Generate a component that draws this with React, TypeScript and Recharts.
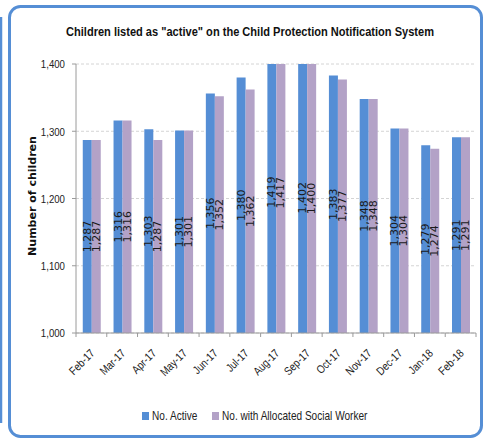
import React from 'react';
import { BarChart, Bar, XAxis, YAxis, CartesianGrid, LabelList, Legend } from 'recharts';

const months = ['Feb-17', 'Mar-17', 'Apr-17', 'May-17', 'Jun-17', 'Jul-17', 'Aug-17', 'Sep-17', 'Oct-17', 'Nov-17', 'Dec-17', 'Jan-18', 'Feb-18'];
const activeCounts = [1287, 1316, 1303, 1301, 1356, 1380, 1419, 1402, 1383, 1348, 1304, 1279, 1291];
const allocatedCounts = [1287, 1316, 1287, 1301, 1352, 1362, 1417, 1400, 1377, 1348, 1304, 1274, 1291];
const yTicks = [1000, 1100, 1200, 1300, 1400];
const seriesNames = ['No. Active', 'No. with Allocated Social Worker'];

const data = months.map((m, i) => ({ month: m, active: activeCounts[i], allocated: allocatedCounts[i] }));

const W = 483;
const H = 443;
const PLOT_LEFT = 76;
const PLOT_RIGHT = 476;
const BLUE = '#558ed5';
const PURPLE = '#b3a2c7';
const AXIS = '#9a9a9a';
const SANS = "'Liberation Sans', Arial, sans-serif";
const SQUEEZE = 0.84; // poor man's Calibri

const fmt = (v: number) => v.toLocaleString('en-US');

const XTick = (props: any) => {
  const { x, y, payload, index } = props;
  const bw = (PLOT_RIGHT - PLOT_LEFT) / months.length;
  const ax = x + 4;
  const ay = y + 21;
  return (
    <g>
      <line x1={x - bw / 2} x2={x - bw / 2} y1={y} y2={y + 4} stroke={AXIS} />
      {index === months.length - 1 && <line x1={x + bw / 2} x2={x + bw / 2} y1={y} y2={y + 4} stroke={AXIS} />}
      <text
        x={0}
        y={0}
        textAnchor="end"
        fontFamily={SANS}
        fontSize={11.5}
        fill="#222"
        transform={`translate(${ax}, ${ay}) rotate(-45) scale(${SQUEEZE}, 1)`}
      >
        {payload.value}
      </text>
    </g>
  );
};

const YTick = (props: any) => {
  const { x, y, payload } = props;
  return (
    <text
      x={0}
      y={0}
      textAnchor="end"
      dominantBaseline="central"
      fontFamily={SANS}
      fontSize={11.5}
      fill="#222"
      transform={`translate(${x}, ${y}) scale(${SQUEEZE}, 1)`}
    >
      {fmt(payload.value)}
    </text>
  );
};

const BarValue = (props: any) => {
  const { x, y, width, height, value } = props;
  const cx = x + width / 2;
  const cy = y + height / 2;
  return (
    <text
      x={cx}
      y={cy}
      textAnchor="middle"
      dominantBaseline="central"
      fontFamily="'DejaVu Sans', sans-serif"
      fontSize={11}
      fill="#1a1a1a"
      transform={`rotate(-90, ${cx}, ${cy})`}
    >
      {fmt(value)}
    </text>
  );
};

const legendX = [142, 212];

const renderLegend = () => (
  <svg width={W} height={40} style={{ display: 'block' }}>
    {[BLUE, PURPLE].map((c, i) => (
      <g key={i}>
        <rect x={legendX[i]} y={19} width={7} height={8} fill={c} />
        <text
          x={0}
          y={0}
          dominantBaseline="central"
          fontFamily={SANS}
          fontSize={12}
          fill="#222"
          transform={`translate(${legendX[i] + 10}, 23) scale(${SQUEEZE}, 1)`}
        >
          {seriesNames[i]}
        </text>
      </g>
    ))}
  </svg>
);

export default function App() {
  return (
    <div style={{ position: 'absolute', left: 0, top: 0, width: W, height: H, background: '#fff' }}>
      <svg width={W} height={H} style={{ position: 'absolute', left: 0, top: 0 }}>
        <line x1={1} x2={1} y1={17} y2={423} stroke={BLUE} strokeWidth={2.5} />
        <rect x={9.5} y={6.5} width={472} height={430} rx={11} ry={11} fill="none" stroke={BLUE} strokeWidth={3} />
        <text
          x={0}
          y={0}
          textAnchor="middle"
          fontFamily={SANS}
          fontWeight="bold"
          fontSize={13.5}
          fill="#111"
          transform="translate(250, 36) scale(0.82, 1)"
        >
          Children listed as "active" on the Child Protection Notification System
        </text>
        <text
          x={32}
          y={196}
          textAnchor="middle"
          dominantBaseline="central"
          fontFamily="'DejaVu Sans', sans-serif"
          fontWeight="bold"
          fontSize={11}
          fill="#111"
          transform="rotate(-90, 32, 196)"
        >
          Number of children
        </text>
      </svg>
      <div style={{ position: 'absolute', left: 0, top: 0 }}>
        <BarChart
          width={W}
          height={H}
          data={data}
          margin={{ top: 64, right: W - PLOT_RIGHT, bottom: 10, left: 0 }}
          barCategoryGap="22%"
          barGap={0}
        >
          <CartesianGrid vertical={false} stroke="#d4d4d4" strokeDasharray="3 2" />
          <XAxis
            dataKey="month"
            interval={0}
            tickLine={false}
            tickSize={0}
            tickMargin={0}
            height={60}
            stroke={AXIS}
            tick={<XTick />}
          />
          <YAxis
            width={PLOT_LEFT}
            domain={[1000, 1400]}
            ticks={yTicks}
            allowDataOverflow
            tickSize={4}
            tickMargin={7}
            stroke={AXIS}
            tick={<YTick />}
          />
          <Legend verticalAlign="bottom" height={40} content={renderLegend} />
          <Bar dataKey="active" name={seriesNames[0]} fill={BLUE} isAnimationActive={false}>
            <LabelList dataKey="active" content={<BarValue />} />
          </Bar>
          <Bar dataKey="allocated" name={seriesNames[1]} fill={PURPLE} isAnimationActive={false}>
            <LabelList dataKey="allocated" content={<BarValue />} />
          </Bar>
        </BarChart>
      </div>
    </div>
  );
}
